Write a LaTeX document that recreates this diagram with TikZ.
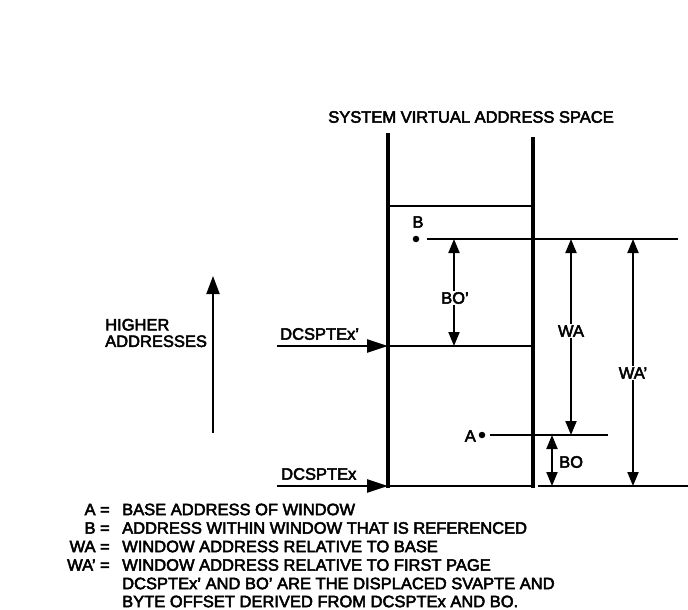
\documentclass[tikz,border=0pt]{standalone}
\usepackage{fontspec}
\setmainfont{Liberation Sans}[FakeBold=3]
\usetikzlibrary{arrows.meta}
\tikzset{
  wall/.style={line width=3.5pt},
  rule/.style={line width=2.3pt},
  dim/.style={line width=2pt,-{Triangle[length=14pt,width=11pt]}},
  dimb/.style={line width=2pt,{Triangle[length=14pt,width=11pt]}-{Triangle[length=14pt,width=11pt]}},
  inarrow/.style={line width=2.4pt,-{Triangle[length=21pt,width=13pt]}},
  lab/.style={inner sep=1pt,font=\fontsize{16.5}{18}\selectfont},
  leg/.style={inner sep=0pt,font=\fontsize{16.5}{18}\selectfont},
  dot/.style={circle,fill=black,inner sep=0pt,minimum size=6.5pt}
}
\newcommand\pr{’}
\begin{document}
\begin{tikzpicture}[x=1pt,y=-1pt]
\useasboundingbox (0,0) rectangle (688,610);
% title
\node[font=\fontsize{16.5}{19}\selectfont,inner sep=0pt] (title) at (471,117) {SYSTEM VIRTUAL ADDRESS SPACE};
% column walls
\coordinate (LT) at (388,133); \coordinate (LB) at (388,487.5);
\coordinate (RT) at (533,137); \coordinate (RB) at (533,487.5);
\draw[wall] (LT) -- (LB);
\draw[wall] (RT) -- (RB);
% horizontal rules in column
\coordinate (h1l) at (388,206); \coordinate (h1r) at (533,206);
\draw[rule] (h1l) -- (h1r);
\coordinate (h2l) at (388,346); \coordinate (h2r) at (533,346);
\draw[rule] (h2l) -- (h2r);
\coordinate (h3l) at (388,486); \coordinate (h3r) at (533,486);
\draw[rule] (h3l) -- (h3r);
% B
\node[dot] (Bdot) at (416,239) {};
\node[lab] (Blab) at (418,222) {B};
\coordinate (bl0) at (427,239); \coordinate (bl1) at (678,239);
\draw[rule] (bl0) -- (bl1);
% A
\node[dot] (Adot) at (482,435) {};
\node[lab,anchor=east] (Alab) at (477,436) {A};
\coordinate (al0) at (490,435); \coordinate (al1) at (608,435);
\draw[rule] (al0) -- (al1);
% bottom extension
\coordinate (ex0) at (538,486); \coordinate (ex1) at (688,486);
\draw[rule] (ex0) -- (ex1);
% BO' dimension
\node[lab] (BOp) at (455,298) {BO\pr};
\coordinate (bopx) at (454,298);
\draw[dim] (bopx |- BOp.north) -- (bopx |- bl0);
\draw[dim] (bopx |- BOp.south) -- (bopx |- h2l);
% WA dimension
\node[lab] (WA) at (571,331) {WA};
\draw[dim] (WA.north) -- (WA.north |- bl0);
\draw[dim] (WA.south) -- (WA.south |- al0);
% WA' dimension
\node[lab,inner xsep=0pt] (WAp) at (633,373) {WA\pr};
\coordinate (wapx) at (633,373);
\draw[dim] (wapx |- WAp.north) -- (wapx |- bl0);
\draw[dim] (wapx |- WAp.south) -- (wapx |- ex0);
% BO dimension
\coordinate (bo0) at (552,435); \coordinate (bo1) at (552,486);
\draw[dimb] (bo0) -- (bo1);
\node[lab,anchor=west] (BO) at (558,462) {BO};
% incoming arrows
\coordinate (d1) at (277,346); \coordinate (d0) at (277,486);
\draw[inarrow] (d1) -- (h2l);
\draw[inarrow] (d0) -- (h3l);
\node[lab,anchor=west] (D1lab) at (279,334) {DCSPTEx\pr};
\node[lab,anchor=west] (D0lab) at (280,474) {DCSPTEx};
% higher addresses
\coordinate (ha0) at (213,433); \coordinate (ha1) at (213,276);
\draw[inarrow,line width=2pt,-{Triangle[length=18pt,width=13pt]}] (ha0) -- (ha1);
\node[lab,anchor=west,align=left,font=\fontsize{16.5}{16.5}\selectfont] (HA) at (104,333) {HIGHER\\ADDRESSES};
% legend
\node[leg,anchor=east] (k1) at (110,509.5) {A =};
\node[leg,anchor=east] (k2) at (110,528) {B =};
\node[leg,anchor=east] (k3) at (110,546.5) {WA =};
\node[leg,anchor=east] (k4) at (110,565) {WA\pr\ =};
\node[leg,anchor=west] (v1) at (122,509.5) {BASE ADDRESS OF WINDOW};
\node[leg,anchor=west] (v2) at (122,528) {ADDRESS WITHIN WINDOW THAT IS REFERENCED};
\node[leg,anchor=west] (v3) at (122,546.5) {WINDOW ADDRESS RELATIVE TO BASE};
\node[leg,anchor=west] (v4) at (122,565) {WINDOW ADDRESS RELATIVE TO FIRST PAGE};
\node[leg,anchor=west] (v5) at (122,583.5) {DCSPTEx\pr\ AND BO\pr\ ARE THE DISPLACED SVAPTE AND};
\node[leg,anchor=west] (v6) at (122,601.5) {BYTE OFFSET DERIVED FROM DCSPTEx AND BO.};
\end{tikzpicture}
\end{document}
